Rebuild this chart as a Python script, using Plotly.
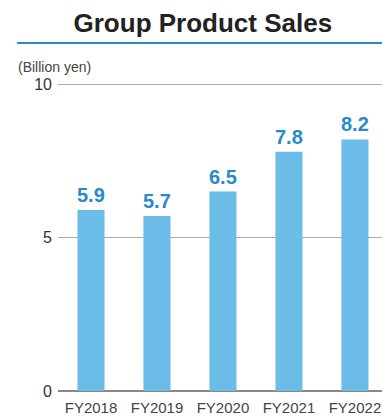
import plotly.graph_objects as go

categories = ["FY2018", "FY2019", "FY2020", "FY2021", "FY2022"]
sales = [5.9, 5.7, 6.5, 7.8, 8.2]
labels = ["5.9", "5.7", "6.5", "7.8", "8.2"]
y_ticks = [0, 5, 10]

FONT = "Liberation Sans, Arial, Helvetica, sans-serif"
BAR = "#6BBCE6"
LABEL = "#2A8AC9"

fig = go.Figure()
fig.add_trace(go.Bar(
    x=list(range(len(categories))), y=sales, width=0.41,
    marker=dict(color=BAR, line=dict(width=0)),
    hoverinfo="skip",
))

for i, (v, t) in enumerate(zip(sales, labels)):
    fig.add_annotation(x=i, y=v, text=f"<b>{t}</b>", showarrow=False,
                       xref="x", yref="y", yanchor="bottom", yshift=2,
                       font=dict(family=FONT, size=20, color=LABEL))

fig.update_layout(
    width=382, height=417,
    margin=dict(l=58, r=0, t=82, b=26),
    paper_bgcolor="white", plot_bgcolor="white",
    showlegend=False,
    title=dict(text="<b>Group Product Sales</b>", x=0.531, xanchor="center",
               y=1 - 23 / 417, yanchor="middle", yref="container",
               font=dict(family=FONT, size=26, color="#222222")),
    xaxis=dict(tickmode="array", tickvals=list(range(len(categories))),
               ticktext=categories, range=[-0.5, 4.41], showgrid=False,
               zeroline=False, showline=False, ticks="", ticklabelstandoff=6,
               tickfont=dict(family=FONT, size=15, color="#444444")),
    yaxis=dict(range=[0, 10.07], tickmode="array", tickvals=y_ticks,
               showgrid=True, gridcolor="#AAAAAA", gridwidth=1,
               zeroline=True, zerolinecolor="#888888", zerolinewidth=1.5,
               showline=False, ticks="", ticklabelstandoff=5,
               tickfont=dict(family=FONT, size=16, color="#333333")),
)

fig.add_shape(type="line", xref="paper", yref="paper",
              x0=(19 - 58) / 309, x1=1.0, y0=1 + (82 - 43) / 309, y1=1 + (82 - 43) / 309,
              line=dict(color="#2A8AC9", width=2))

fig.add_annotation(text="(Billion yen)", xref="paper", yref="paper",
                   x=(17 - 58) / 324, y=1 + (82 - 67) / 309, xanchor="left", yanchor="middle",
                   showarrow=False, borderpad=0,
                   font=dict(family=FONT, size=14, color="#444444"))

fig.write_html("out.html")
